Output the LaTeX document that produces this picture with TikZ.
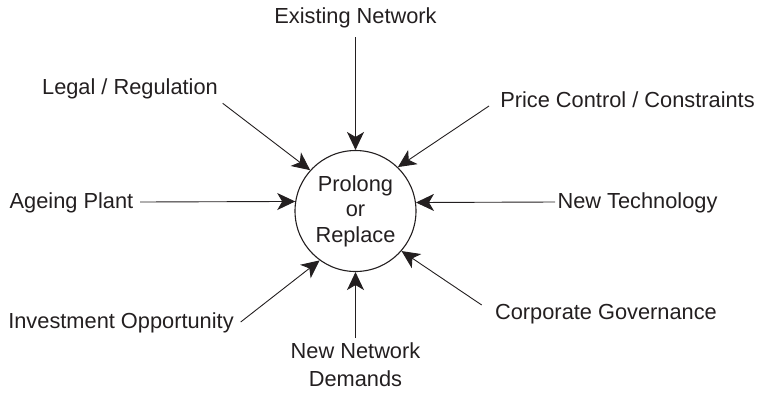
\documentclass[tikz,border=0pt]{standalone}
\usepackage{fontspec}
\setmainfont{Liberation Sans}
\usetikzlibrary{arrows.meta}
\definecolor{ink}{HTML}{231F20}
\begin{document}
\begin{tikzpicture}[x=1pt,y=-1pt,
  lab/.style={font=\fontsize{21.8}{25.5}\selectfont, text=ink, inner sep=0pt, align=center},
  conn/.style={draw=ink, line width=0.9pt, -{Stealth[length=18pt,width=17pt,inset=5pt]}},
  hub/.style={circle, draw=ink, line width=1.1pt, minimum size=121pt, inner sep=0pt}]
\useasboundingbox (0,0) rectangle (757,416);
\node[hub] (c) at (355.5,211) {};
\node[lab] (cin) at (355.5,211) {Prolong\\or\\Replace};
% labels
\node[lab] (tEx) at (355.5,18) {Existing Network};
\node[lab] (tLeg) at (130,89) {Legal / Regulation};
\node[lab] (tPr) at (627.5,100) {Price Control / Constraints};
\node[lab] (tAge) at (71.5,203) {Ageing Plant};
\node[lab] (tTech) at (637.5,203) {New Technology};
\node[lab] (tInv) at (121,323) {Investment Opportunity};
\node[lab] (tCorp) at (606,314) {Corporate Governance};
\node[lab, font=\fontsize{21.8}{28}\selectfont] (tNND) at (355.5,365) {New Network\\Demands};
% connector start points
\coordinate (sEx) at (355.5,37);
\coordinate (sLeg) at (222.7,103.3);
\coordinate (sPr) at (489,106);
\coordinate (sAge) at (140,202);
\coordinate (sTech) at (555,202);
\coordinate (sInv) at (240.7,322);
\coordinate (sCorp) at (481.7,305);
\coordinate (sNND) at (355.5,338);
% connectors
\draw[conn] (sEx) -- (c.90);
\draw[conn] (sLeg) -- (c.138);
\draw[conn] (sPr) -- (c.46);
\draw[conn] (sAge) -- (c.171.4);
\draw[conn] (sTech) -- (c.8.6);
\draw[conn] (sInv) -- (c.234);
\draw[conn] (sCorp) -- (c.319);
\draw[conn] (sNND) -- (c.270);
\end{tikzpicture}
\end{document}
